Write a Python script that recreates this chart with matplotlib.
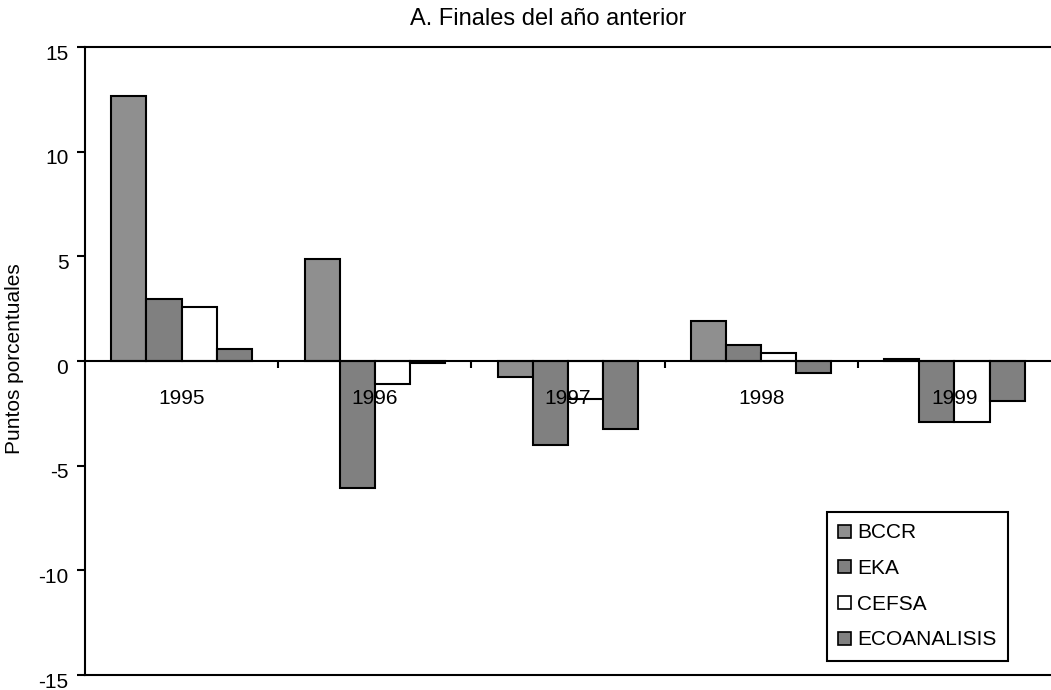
import numpy as np
import matplotlib
matplotlib.use('Agg')
import matplotlib.pyplot as plt
from matplotlib.patches import Patch
from matplotlib.transforms import ScaledTranslation

plt.rcParams['font.family'] = ['Liberation Sans', 'DejaVu Sans']
plt.rcParams['axes.unicode_minus'] = False

# datos
anios = ['1995', '1996', '1997', '1998', '1999']
series = ['BCCR', 'EKA', 'CEFSA', 'ECOANALISIS']
bccr = [12.65, 4.87, -0.77, 1.93, 0.10]
eka = [2.96, -6.08, -4.02, 0.78, -2.90]
cefsa = [2.59, -1.11, -1.82, 0.39, -2.90]
eco = [0.59, -0.11, -3.25, -0.58, -1.92]
colores = ['#8f8f8f', '#808080', '#ffffff', '#808080']

fig = plt.figure(figsize=(10.51, 6.90), dpi=100)
ax = fig.add_axes([85/1051, 15/690, 966/1051, 628/690])

x = np.arange(len(anios))
w = 1 / 5.5
valores = [bccr, eka, cefsa, eco]
for i, (v, c) in enumerate(zip(valores, colores)):
    ax.bar(x + (i - 1.5) * w, v, w, color=c, edgecolor='black', linewidth=1.5)

ax.set_xlim(-0.5, len(anios) - 0.5)
ax.set_ylim(-15, 15)
ax.set_yticks(range(-15, 16, 5))

# eje x en cero, marcas entre categorias
ax.spines['bottom'].set_position(('data', 0))
ax.spines['right'].set_visible(False)
for s in ['bottom', 'top', 'left']:
    ax.spines[s].set_linewidth(1.5)
ax.axhline(-15, color='black', linewidth=1.5, clip_on=False)

ax.set_xticks(x)
ax.set_xticklabels(anios)
ax.set_xticks(np.arange(0.5, len(anios) - 0.5, 1), minor=True)
ax.tick_params(axis='x', which='major', length=0, pad=20, labelsize=15)
ax.tick_params(axis='x', which='minor', length=5, width=1.5, direction='out')
ax.tick_params(axis='y', length=6, width=1.5, pad=6, labelsize=15)

# etiquetas del eje y un poco mas abajo, como en el original
desp = ScaledTranslation(0, -0.05, fig.dpi_scale_trans)
for lbl in ax.get_yticklabels():
    lbl.set_transform(lbl.get_transform() + desp)

fig.text(548/1051, 1 - 19/690, 'A. Finales del año anterior', ha='center', va='center', fontsize=17)
fig.text(15/1051, 1 - 359/690, 'Puntos porcentuales', rotation=90, ha='center', va='center', fontsize=15)

handles = [Patch(facecolor=c, edgecolor='black', linewidth=1.2) for c in colores]
leg = ax.legend(handles, series, loc='upper left', bbox_to_anchor=(827/1051, 1 - 512/690),
                bbox_transform=fig.transFigure, borderaxespad=0, fontsize=15,
                handlelength=0.6, handleheight=0.6, handletextpad=0.3,
                labelspacing=0.8, borderpad=0.55, fancybox=False, framealpha=1)
leg.get_frame().set_edgecolor('black')
leg.get_frame().set_linewidth(1.5)

fig.savefig('out.png', dpi=100)
